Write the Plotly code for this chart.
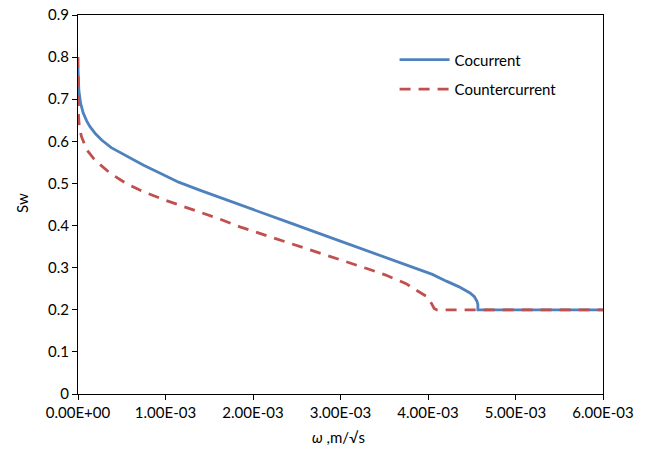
import plotly.graph_objects as go

# Cocurrent curve
co_x = [0, 0.000002, 0.00001, 0.00003, 0.00006, 0.0001, 0.000137, 0.0002, 0.00027,
        0.00038, 0.00056, 0.00075, 0.00094, 0.00115, 0.00139, 0.00165, 0.00174,
        0.002, 0.0024, 0.00288, 0.0033, 0.0036, 0.0039, 0.00405, 0.00421, 0.00435,
        0.00448, 0.00453, 0.00456, 0.00457, 0.00457, 0.006]
co_y = [0.775, 0.75, 0.72, 0.69, 0.667, 0.648, 0.635, 0.618, 0.603,
        0.585, 0.564, 0.543, 0.524, 0.503, 0.484, 0.464, 0.457,
        0.437, 0.408, 0.372, 0.341, 0.318, 0.296, 0.284, 0.268, 0.255,
        0.240, 0.231, 0.220, 0.212, 0.200, 0.200]

# Countercurrent curve
cc_x = [0, 0.000002, 0.000006, 0.000015, 0.00004, 0.0001, 0.000175, 0.00025, 0.00037,
        0.00055, 0.00075, 0.001, 0.00132, 0.0016, 0.00185, 0.0021, 0.0024, 0.00288,
        0.0033, 0.00351, 0.00375, 0.00383, 0.0039, 0.00399, 0.00404, 0.00407,
        0.0041, 0.006]
cc_y = [0.80, 0.72, 0.66, 0.635, 0.611, 0.58, 0.56, 0.545, 0.524,
        0.50, 0.48, 0.46, 0.437, 0.417, 0.397, 0.38, 0.36, 0.328,
        0.298, 0.283, 0.262, 0.251, 0.243, 0.231, 0.215, 0.203,
        0.200, 0.200]

x_ticks = [0, 0.001, 0.002, 0.003, 0.004, 0.005, 0.006]
x_tick_labels = ["0.00E+00", "1.00E-03", "2.00E-03", "3.00E-03", "4.00E-03", "5.00E-03", "6.00E-03"]
y_ticks = [0, 0.1, 0.2, 0.3, 0.4, 0.5, 0.6, 0.7, 0.8, 0.9]
y_tick_labels = ["0", "0.1", "0.2", "0.3", "0.4", "0.5", "0.6", "0.7", "0.8", "0.9"]

FONT = "Lato"
W, H = 646, 454
ML, MR, MT, MB = 78, 43, 15, 60
PW, PH = W - ML - MR, H - MT - MB

fig = go.Figure()
fig.add_trace(go.Scatter(x=co_x, y=co_y, mode="lines", name="Cocurrent",
                         legendgroup="a",
                         line=dict(color="#4F81BD", width=2.8)))
fig.add_trace(go.Scatter(x=cc_x, y=cc_y, mode="lines", name="Countercurrent",
                         legendgroup="b",
                         line=dict(color="#C0504D", width=2.8, dash="11px,8px")))

fig.update_layout(
    width=W, height=H,
    margin=dict(l=ML, r=MR, t=MT, b=MB, autoexpand=False),
    paper_bgcolor="white", plot_bgcolor="white",
    font=dict(family=FONT, size=15, color="black"),
    showlegend=True,
    legend=dict(x=0.603, y=0.925, xanchor="left", yanchor="top",
                bgcolor="rgba(0,0,0,0)", traceorder="grouped",
                tracegroupgap=7, itemwidth=50,
                font=dict(family=FONT, size=15, color="black")),
    xaxis=dict(range=[0, 0.006], tickvals=x_ticks, ticktext=x_tick_labels,
               showgrid=False, zeroline=False, showline=True, linecolor="black",
               linewidth=1, mirror=True, ticks="outside", ticklen=5, tickcolor="black",
               automargin=False, ticklabeloverflow="allow"),
    yaxis=dict(range=[0, 0.9], tickvals=y_ticks, ticktext=y_tick_labels,
               showgrid=False, zeroline=False, showline=True, linecolor="black",
               linewidth=1, mirror=True, ticks="outside", ticklen=5, tickcolor="black",
               automargin=False, ticklabeloverflow="allow"),
    annotations=[
        dict(text="<i>ω</i> ,m/√s", xref="paper", yref="paper",
             x=(338 - ML) / PW, y=-(437 - (H - MB)) / PH,
             xanchor="center", yanchor="middle", showarrow=False,
             font=dict(family=FONT, size=15)),
        dict(text="Sw", xref="paper", yref="paper", textangle=-90,
             x=-(ML - 22) / PW, y=(H - MB - 203) / PH,
             xanchor="center", yanchor="middle", showarrow=False,
             font=dict(family=FONT, size=15)),
    ],
)

fig.write_html("out.html", config={"displayModeBar": False},
               post_script="document.body.style.margin='0';")
